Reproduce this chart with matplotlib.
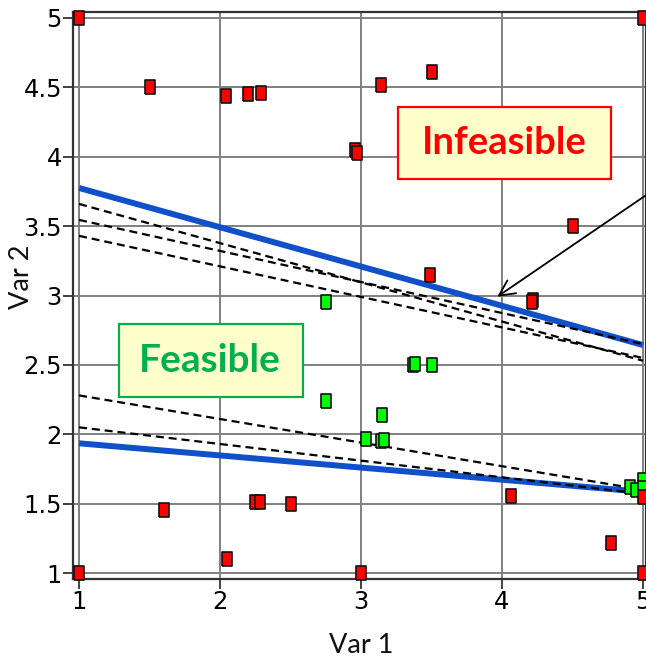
import matplotlib
matplotlib.use("Agg")
import matplotlib.pyplot as plt
from matplotlib.patches import Rectangle

# Sample points (red = infeasible, green = feasible)
red_x = [1, 1.5, 2.04, 2.2, 2.29, 2.96, 2.97, 3.14, 3.505, 3.49, 4.5, 4.22, 4.21,
         4.06, 4.77, 5, 5, 3, 1, 1.6, 2.05, 2.25, 2.28, 2.5, 5.0]
red_y = [5, 4.5, 4.44, 4.45, 4.46, 4.05, 4.03, 4.52, 4.61, 3.15, 3.50, 2.97, 2.95,
         1.555, 1.215, 1, 5, 1, 1, 1.455, 1.10, 1.51, 1.515, 1.50, 1.55]
green_x = [2.75, 2.75, 3.37, 3.38, 3.50, 3.15, 3.035, 3.14, 3.16, 4.91, 4.95, 5.0, 5.0]
green_y = [2.95, 2.24, 2.50, 2.51, 2.50, 2.14, 1.965, 1.95, 1.96, 1.62, 1.60, 1.67, 1.61]

# Boundary lines: values at Var 1 = 1 and Var 1 = 5
line_x = [1, 5]
blue_lines = [[3.775, 2.643], [1.935, 1.585]]
dashed_lines = [[3.66, 2.53], [3.545, 2.65], [3.43, 2.55], [2.28, 1.60], [2.05, 1.57]]

ticks = [1, 1.5, 2, 2.5, 3, 3.5, 4, 4.5, 5]
xticks = [1, 2, 3, 4, 5]

tick_font = ['Liberation Sans Narrow', 'DejaVu Sans']
label_font = ['Lato', 'DejaVu Sans']

fig = plt.figure(figsize=(6.46, 6.57), dpi=100)
ax = fig.add_axes([0.113, 0.1187, 0.887, 0.863])
ax.set_xlim(0.957, 5.021)
ax.set_ylim(0.957, 5.043)

ax.grid(True, color='#808080', lw=1.4)
ax.set_axisbelow(True)
for side in ['left', 'bottom', 'top', 'right']:
    ax.spines[side].set_color('#333333')
    ax.spines[side].set_linewidth(1.6)

ax.set_xticks(xticks)
ax.set_yticks(ticks)
ax.set_xticklabels([f'{t:g}' for t in xticks])
ax.set_yticklabels([f'{t:g}' for t in ticks])
ax.tick_params(direction='out', length=7, width=1.3, color='#333333', pad=1)
for lab in ax.get_xticklabels() + ax.get_yticklabels():
    lab.set_fontfamily(tick_font)
    lab.set_fontsize(17.5)

for ys in dashed_lines:
    ax.plot(line_x, ys, color='black', lw=1.6, linestyle=(0, (3.6, 2.2)), zorder=3)
for ys in blue_lines:
    ax.plot(line_x, ys, color='#1050C8', lw=4.3, zorder=2.5, solid_capstyle='butt')

rect = [(-0.35, -0.5), (0.35, -0.5), (0.35, 0.5), (-0.35, 0.5), (-0.35, -0.5)]
ax.plot(green_x, green_y, linestyle='none', marker=rect, markersize=9.5,
        markerfacecolor='#00FF00', markeredgecolor='#111111', markeredgewidth=1.2,
        zorder=5, clip_on=False)
ax.plot(red_x, red_y, linestyle='none', marker=rect, markersize=9.5,
        markerfacecolor='#FF0000', markeredgecolor='#111111', markeredgewidth=1.2,
        zorder=5, clip_on=False)

ax.annotate('', xy=(3.95, 2.98), xytext=(5.06, 3.75), annotation_clip=False,
            arrowprops=dict(arrowstyle='->', color='black', lw=1.3, mutation_scale=28),
            zorder=6)

# label boxes
ax.add_patch(Rectangle((3.262, 3.840), 1.511, 0.519, facecolor='#FFFFCC',
                       edgecolor='#FF0000', lw=1.6, zorder=7))
ax.text(4.018, 4.10, 'Infeasible', color='#FF0000', fontsize=27.5, fontweight='bold',
        family=label_font, ha='center', va='center', zorder=8)
ax.add_patch(Rectangle((1.284, 2.268), 1.305, 0.527, facecolor='#FFFFCC',
                       edgecolor='#00B050', lw=1.6, zorder=7))
ax.text(1.929, 2.53, 'Feasible', color='#00B050', fontsize=28, fontweight='bold',
        family=label_font, ha='center', va='center', zorder=8)

fig.text(0.559, 0.0066, 'Var 1', fontsize=19.5, family=label_font,
         ha='center', va='baseline', color='#111111')
fig.text(0.033, 0.579, 'Var 2', fontsize=19.5, family=label_font,
         ha='center', va='center', rotation=90, color='#111111')

fig.savefig('out.png', dpi=100)
